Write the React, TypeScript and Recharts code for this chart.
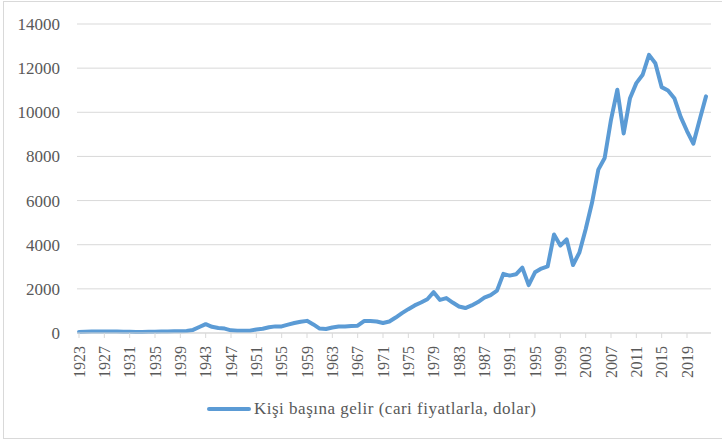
import { CartesianGrid, Line, LineChart, XAxis, YAxis } from "recharts";

const years = [
	"1923", "1924", "1925", "1926", "1927", "1928", "1929", "1930", "1931", "1932",
	"1933", "1934", "1935", "1936", "1937", "1938", "1939", "1940", "1941", "1942",
	"1943", "1944", "1945", "1946", "1947", "1948", "1949", "1950", "1951", "1952",
	"1953", "1954", "1955", "1956", "1957", "1958", "1959", "1960", "1961", "1962",
	"1963", "1964", "1965", "1966", "1967", "1968", "1969", "1970", "1971", "1972",
	"1973", "1974", "1975", "1976", "1977", "1978", "1979", "1980", "1981", "1982",
	"1983", "1984", "1985", "1986", "1987", "1988", "1989", "1990", "1991", "1992",
	"1993", "1994", "1995", "1996", "1997", "1998", "1999", "2000", "2001", "2002",
	"2003", "2004", "2005", "2006", "2007", "2008", "2009", "2010", "2011", "2012",
	"2013", "2014", "2015", "2016", "2017", "2018", "2019", "2020", "2021", "2022",
];

// Kişi başına gelir (cari fiyatlarla, dolar)
const income = [
	45, 55, 65, 70, 65, 65, 70, 60, 60, 50,
	50, 55, 55, 65, 70, 75, 80, 90, 140, 270,
	400, 280, 230, 200, 120, 100, 100, 100, 160, 190,
	260, 300, 300, 380, 450, 510, 550, 390, 200, 180,
	250, 290, 290, 320, 330, 540, 540, 520, 450, 520,
	700, 900, 1080, 1250, 1380, 1530, 1850, 1500, 1580, 1380,
	1200, 1130, 1250, 1400, 1600, 1720, 1920, 2680, 2600, 2660,
	2960, 2170, 2750, 2920, 3020, 4460, 3960, 4240, 3080, 3640,
	4700, 5900, 7400, 7930, 9660, 11020, 9040, 10640, 11320, 11700,
	12600, 12220, 11140, 10990, 10640, 9790, 9150, 8580, 9660, 10720,
];

const xTicks = [
	"1923", "1927", "1931", "1935", "1939", "1943", "1947", "1951", "1955",
	"1959", "1963", "1967", "1971", "1975", "1979", "1983", "1987", "1991",
	"1995", "1999", "2003", "2007", "2011", "2015", "2019",
];

const yTicks = [0, 2000, 4000, 6000, 8000, 10000, 12000, 14000];

const seriesName = "Kişi başına gelir (cari fiyatlarla, dolar)";

const data = years.map((year, i) => ({ year, income: income[i] }));

const FONT = "'Liberation Serif', 'DejaVu Serif', serif";
const TEXT = "#595959";
const GRID = "#d9d9d9";
const BLUE = "#5b9bd5";

interface TickProps {
	x?: number;
	y?: number;
	payload?: { value: string | number };
}

// döndürülmüş yıl etiketleri
function YearTick({ x = 0, y = 0, payload }: TickProps) {
	return (
		<g transform={`translate(${x},${y})`}>
			<text
				x={0}
				y={0}
				dy={5.5}
				textAnchor="end"
				transform="rotate(-90)"
				style={{ fontFamily: FONT, fontSize: 16, fill: TEXT }}
			>
				{payload?.value}
			</text>
		</g>
	);
}

function ValueTick({ x = 0, y = 0, payload }: TickProps) {
	return (
		<text
			x={x}
			y={y}
			dy={6}
			textAnchor="end"
			style={{ fontFamily: FONT, fontSize: 17, fill: TEXT }}
		>
			{payload?.value}
		</text>
	);
}

export default function App() {
	return (
		<div
			style={{
				position: "absolute",
				left: 0,
				top: 0,
				width: 722,
				height: 441,
				background: "#fff",
				overflow: "hidden",
				fontFamily: FONT,
			}}
		>
			<div
				style={{
					position: "absolute",
					left: 3,
					top: 1,
					width: 740,
					height: 436,
					border: `1px solid ${GRID}`,
				}}
			/>
			<LineChart
				width={722}
				height={441}
				data={data}
				margin={{ top: 24, right: 11, left: 0, bottom: 58 }}
				style={{ position: "absolute", left: 0, top: 0, fontFamily: FONT }}
			>
				<CartesianGrid vertical={false} stroke={GRID} strokeWidth={1} />
				<XAxis
					dataKey="year"
					ticks={xTicks}
					interval={0}
					height={50}
					padding={{ left: 2, right: 5 }}
					axisLine={{ stroke: GRID }}
					tickLine={{ stroke: GRID }}
					tickSize={5}
					tickMargin={8}
					tick={<YearTick />}
				/>
				<YAxis
					domain={[0, 14000]}
					ticks={yTicks}
					width={77}
					axisLine={false}
					tickLine={false}
					tickSize={0}
					tickMargin={17}
					tick={<ValueTick />}
				/>
				<Line
					type="linear"
					dataKey="income"
					name={seriesName}
					stroke={BLUE}
					strokeWidth={4}
					strokeLinejoin="round"
					strokeLinecap="round"
					dot={false}
					activeDot={false}
					isAnimationActive={false}
				/>
			</LineChart>
			{/* lejant */}
			<div
				style={{
					position: "absolute",
					left: 207,
					top: 398,
					height: 22,
					display: "flex",
					alignItems: "center",
					fontFamily: FONT,
					fontSize: 17,
					letterSpacing: 0.5,
					color: TEXT,
					whiteSpace: "nowrap",
				}}
			>
				<svg width={44} height={10} style={{ marginRight: 3 }}>
					<line x1={2} y1={5} x2={42} y2={5} stroke={BLUE} strokeWidth={4} strokeLinecap="round" />
				</svg>
				<span>{seriesName}</span>
			</div>
		</div>
	);
}
